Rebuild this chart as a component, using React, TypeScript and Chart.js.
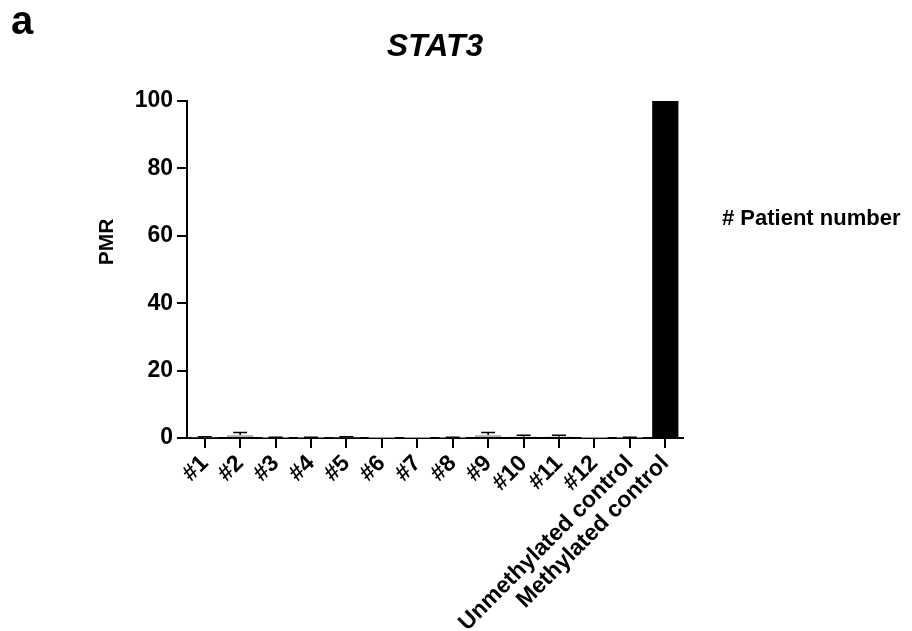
import React, { useEffect, useRef } from "react";
import { Chart, registerables } from "chart.js";

Chart.register(...registerables);

const categories = ["#1", "#2", "#3", "#4", "#5", "#6", "#7", "#8", "#9", "#10", "#11", "#12", "Unmethylated control", "Methylated control"];
const pmrMeans = [0.2, 0.9, 0.1, 0.1, 0.2, 0.05, 0.05, 0.1, 0.9, 0.4, 0.4, 0.05, 0.1, 100];
const pmrErrors = [0.2, 0.7, 0.1, 0.1, 0.2, 0, 0, 0.1, 0.7, 0.4, 0.4, 0, 0.1, 0];
const barColors = ["#b8b8b8", "#b8b8b8", "#b8b8b8", "#b8b8b8", "#b8b8b8", "#b8b8b8", "#b8b8b8", "#b8b8b8", "#b8b8b8", "#b8b8b8", "#b8b8b8", "#b8b8b8", "#b8b8b8", "#000000"];
const yTicks = [0, 20, 40, 60, 80, 100];

const FONT = "'Liberation Sans', Arial, sans-serif";

const overlayPlugin = {
  id: "overlay",
  afterDatasetsDraw(chart: any) {
    const { ctx, chartArea, scales } = chart;
    const x = scales.x;
    const y = scales.y;
    ctx.save();
    // error bars
    ctx.strokeStyle = "#000";
    ctx.lineWidth = 1.5;
    pmrMeans.forEach((m, i) => {
      const e = pmrErrors[i];
      if (!e) return;
      const cx = x.getPixelForValue(i);
      const yTop = y.getPixelForValue(m + e);
      const yMid = y.getPixelForValue(m);
      ctx.beginPath();
      ctx.moveTo(cx, yMid);
      ctx.lineTo(cx, yTop);
      ctx.moveTo(cx - 7, yTop);
      ctx.lineTo(cx + 7, yTop);
      ctx.stroke();
    });
    ctx.fillStyle = "#000";
    // title
    ctx.font = `italic bold 32px ${FONT}`;
    ctx.textAlign = "center";
    ctx.textBaseline = "middle";
    ctx.fillText("STAT3", (chartArea.left + chartArea.right) / 2, 47);
    // panel letter
    ctx.font = `bold 40px ${FONT}`;
    ctx.textAlign = "left";
    ctx.fillText("a", 11, 23);
    // right annotation
    ctx.font = `bold 22px ${FONT}`;
    ctx.fillText("# Patient number", 722, 219);
    // y axis title
    ctx.font = `bold 21px ${FONT}`;
    ctx.translate(107, 242);
    ctx.rotate(-Math.PI / 2);
    ctx.textAlign = "center";
    ctx.fillText("PMR", 0, 0);
    ctx.restore();
  },
};

export default function App() {
  const ref = useRef<HTMLCanvasElement>(null);
  useEffect(() => {
    const chart = new Chart(ref.current!, {
      type: "bar",
      data: {
        labels: categories,
        datasets: [
          {
            data: pmrMeans,
            backgroundColor: barColors,
            borderWidth: 0,
            barPercentage: 0.74,
            categoryPercentage: 1,
          },
        ],
      },
      options: {
        animation: false,
        responsive: false,
        layout: { padding: { top: 101, right: 229, left: 0, bottom: 0 } },
        plugins: { legend: { display: false }, tooltip: { enabled: false }, title: { display: false } },
        scales: {
          x: {
            afterFit: (s: any) => { s.height = 631 - 438; },
            grid: { display: true, drawOnChartArea: false, drawTicks: true, tickLength: 10, color: "#000", lineWidth: 2, offset: false },
            border: { display: true, color: "#000", width: 2 },
            ticks: { color: "#000", font: { family: FONT, size: 23, weight: "bold" }, minRotation: 45, maxRotation: 45, padding: 2, autoSkip: false },
          },
          y: {
            min: 0,
            max: 100,
            afterFit: (s: any) => { s.width = 187; },
            afterBuildTicks: (s: any) => { s.ticks = yTicks.map((v) => ({ value: v })); },
            grid: { display: true, drawOnChartArea: false, drawTicks: true, tickLength: 10, color: "#000", lineWidth: 2 },
            border: { display: true, color: "#000", width: 2 },
            ticks: { color: "#000", font: { family: FONT, size: 23, weight: "bold" }, padding: 4 },
          },
        },
      },
      plugins: [overlayPlugin],
    });
    return () => chart.destroy();
  }, []);
  return (
    <div style={{ position: "fixed", left: 0, top: 0, width: 912, height: 631, background: "#fff" }}>
      <canvas ref={ref} width={912} height={631} style={{ width: 912, height: 631 }} />
    </div>
  );
}
